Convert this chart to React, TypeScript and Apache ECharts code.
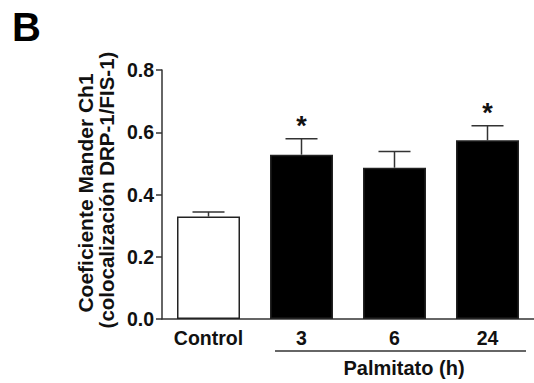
import React, { useEffect, useRef } from "react";
import * as echarts from "echarts";

const categories = ["Control", "3", "6", "24"];
const means = [0.329, 0.528, 0.486, 0.574];
const sems = [0.015, 0.051, 0.052, 0.047];
const significant = [false, true, false, true];
const barColors = ["#ffffff", "#000000", "#000000", "#000000"];
const yTicks = [0, 0.2, 0.4, 0.6, 0.8];

const FONT = "Liberation Sans, Arial, sans-serif";
const AXIS = "#333333";

export default function App() {
  const ref = useRef<HTMLDivElement>(null);
  useEffect(() => {
    if (!ref.current) return;
    const chart = echarts.init(ref.current, undefined, { renderer: "svg" });
    const option: any = {
      animation: false,
      backgroundColor: "#ffffff",
      grid: { left: 162, top: 70, width: 376, height: 249 },
      xAxis: {
        type: "category",
        data: categories,
        axisLine: { lineStyle: { color: AXIS, width: 1.5 } },
        axisTick: { alignWithLabel: true, length: 5, lineStyle: { color: AXIS, width: 1.5 } },
        axisLabel: { color: "#111", fontFamily: FONT, fontWeight: "bold", fontSize: 19.5, margin: 9 },
      },
      yAxis: {
        type: "value",
        min: yTicks[0],
        max: yTicks[yTicks.length - 1],
        interval: 0.2,
        splitLine: { show: false },
        axisLine: { show: true, lineStyle: { color: AXIS, width: 1.5 } },
        axisTick: { show: true, length: 6, lineStyle: { color: AXIS, width: 1.5 } },
        axisLabel: {
          color: "#111",
          fontFamily: FONT,
          fontWeight: "bold",
          fontSize: 19.5,
          margin: 8,
          formatter: (v: number) => v.toFixed(1),
        },
      },
      series: [
        {
          type: "bar",
          barWidth: 63,
          data: means.map((m, i) => ({
            value: m,
            itemStyle: { color: barColors[i], borderColor: "#222", borderWidth: 1.5 },
          })),
          z: 2,
        },
        {
          type: "custom",
          z: 3,
          data: means.map((m, i) => [i, m, sems[i], significant[i] ? 1 : 0]),
          renderItem: (params: any, api: any) => {
            const i = api.value(0);
            const m = api.value(1);
            const e = api.value(2);
            const sig = api.value(3);
            const base = api.coord([i, m]);
            const top = api.coord([i, m + e]);
            const half = 16;
            const children: any[] = [
              { type: "line", shape: { x1: base[0], y1: base[1], x2: top[0], y2: top[1] }, style: { stroke: AXIS, lineWidth: 1.5 } },
              { type: "line", shape: { x1: top[0] - half, y1: top[1], x2: top[0] + half, y2: top[1] }, style: { stroke: AXIS, lineWidth: 1.5 } },
            ];
            if (sig) {
              children.push({
                type: "text",
                style: {
                  text: "*",
                  x: top[0],
                  y: top[1] + 1,
                  textAlign: "center",
                  textVerticalAlign: "bottom",
                  font: `bold 27px ${FONT}`,
                  fill: "#111",
                },
              });
            }
            return { type: "group", children };
          },
        },
      ],
      graphic: [
        { type: "text", left: 12, top: 7, style: { text: "B", font: `bold 40px ${FONT}`, fill: "#000" } },
        {
          type: "text",
          x: 85,
          y: 193,
          rotation: Math.PI / 2,
          style: { text: "Coeficiente Mander Ch1", font: `bold 21px ${FONT}`, fill: "#111", textAlign: "center", textVerticalAlign: "middle" },
        },
        {
          type: "text",
          x: 106,
          y: 190,
          rotation: Math.PI / 2,
          style: { text: "(colocalización DRP-1/FIS-1)", font: `bold 20.5px ${FONT}`, fill: "#111", textAlign: "center", textVerticalAlign: "middle" },
        },
        { type: "line", shape: { x1: 275, y1: 351, x2: 526, y2: 351 }, style: { stroke: AXIS, lineWidth: 1.5 } },
        {
          type: "text",
          x: 404,
          y: 368,
          style: { text: "Palmitato (h)", font: `bold 20px ${FONT}`, fill: "#111", textAlign: "center", textVerticalAlign: "middle" },
        },
      ],
    };
    chart.setOption(option);
    return () => chart.dispose();
  }, []);
  return <div ref={ref} style={{ position: "fixed", left: 0, top: 0, width: 534, height: 383 }} />;
}
